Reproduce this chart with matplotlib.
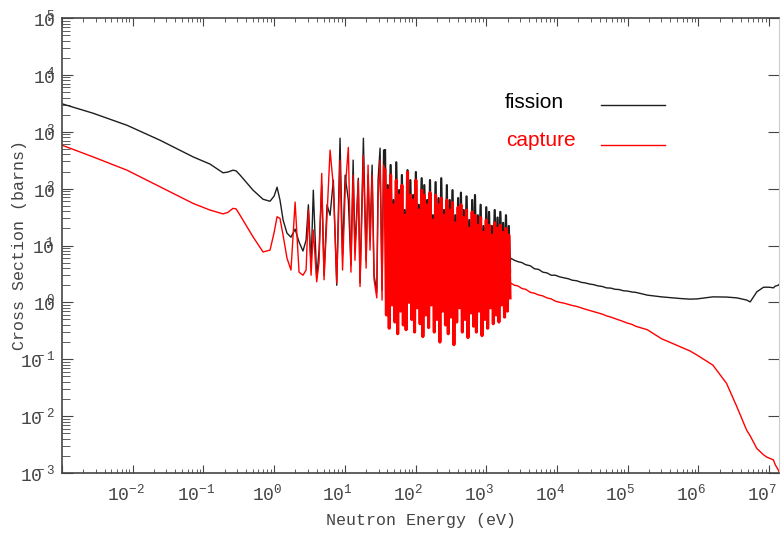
import numpy as np
import matplotlib
matplotlib.use("Agg")
import matplotlib.pyplot as plt
import matplotlib.transforms as mtransforms
from matplotlib.ticker import LogLocator, FuncFormatter, NullFormatter

# U-235 cross sections (energy in eV, cross section in barns)
thermal_energy = [0.001, 0.00274, 0.0083, 0.0243, 0.0713, 0.124, 0.189, 0.22, 0.262, 0.29,
                  0.33, 0.503, 0.697, 0.875, 1.0, 1.10, 1.21, 1.34, 1.52, 1.73, 1.98, 2.25, 2.56]
thermal_fission = [3100, 2120, 1300, 710, 362, 270, 190, 195, 211, 205,
                   173, 94, 65, 60, 74, 106, 63, 28, 16.5, 14, 19.4, 11.5, 8]
thermal_capture = [580, 362, 211, 108, 55, 42, 36, 38, 45, 44,
                   34, 14.2, 7.7, 8.3, 17, 32, 30, 15, 6.0, 3.7, 58, 3.4, 3.0]

# resolved resonances, isolated part
sparse_energy = [2.83, 3.05, 3.33, 3.58, 4.0, 4.32, 4.71, 5.08, 5.6, 6.18, 6.88, 7.68, 8.55, 9.28,
                 10.1, 11.2, 12.2, 13.1, 13.9, 15.5, 16.4, 18.3, 20.0, 21.3, 22.7, 24.3, 25.9,
                 28.3, 29.5, 31.5, 33.6, 35.3]
sparse_fission = [12.4, 52, 4.5, 94, 2.7, 8.3, 115, 3.0, 52, 34, 141, 2.0, 770, 6.8,
                  173, 63, 4.5, 317, 8.3, 152, 2.2, 770, 5.5, 173, 12.4, 259, 3.0,
                  1.5, 141, 515, 1.64, 475]
sparse_capture = [3.7, 42, 3.0, 18.7, 2.3, 5.1, 185, 2.5, 34, 475, 110, 2.2, 317, 3.7,
                  94, 530, 3.4, 173, 5.5, 141, 1.9, 385, 4.0, 259, 8.3, 173, 2.5,
                  1.2, 63, 317, 1.1, 259]

# resolved resonances, dense part (peak / valley pairs)
dense_energy = [37.0, 38.7, 40.5, 42.4, 44.4, 46.5, 48.7, 51.0, 53.4, 55.9,
                58.5, 61.2, 64.1, 67.1, 70.2, 73.5, 77.0, 80.6, 84.4, 88.3,
                92.5, 96.8, 101, 106, 111, 116, 122, 127, 133, 140,
                146, 153, 160, 168, 176, 184, 192, 201, 211, 221,
                231, 242, 253, 265, 277, 290, 304, 318, 333, 349,
                365, 382, 400, 419, 438, 459, 480, 503, 526, 551,
                577, 604, 632, 662, 693, 725, 759, 795, 832, 871,
                912, 955, 1000, 1047, 1096, 1147, 1201, 1257, 1316, 1378,
                1443, 1510, 1581, 1655, 1733, 1814, 1899, 1988, 2081, 2170]
dense_fission = [475, 3.0, 115, 2.0, 260, 4.0, 63, 1.5, 290, 2.5,
                 94, 3.5, 173, 1.2, 42, 2.8, 211, 1.8, 141, 3.2,
                 77, 1.4, 195, 2.2, 52, 4.2, 152, 1.6, 115, 2.6,
                 63, 1.3, 141, 3.0, 34, 2.0, 130, 1.7, 68, 3.6,
                 152, 1.5, 42, 2.4, 115, 1.1, 63, 2.9, 94, 1.9,
                 34, 3.3, 68, 1.4, 85, 2.1, 42, 1.6, 73, 3.8,
                 28, 1.3, 63, 2.5, 77, 1.8, 34, 2.7, 52, 1.2,
                 22, 2.2, 47, 3.1, 39, 1.5, 22, 2.0, 42, 2.6,
                 31, 1.7, 39, 3.0, 25, 2.3, 34, 2.8, 22, 3.5]
dense_capture = [211, 0.6, 94, 0.35, 173, 0.9, 52, 0.45, 141, 0.28,
                 77, 0.7, 115, 0.4, 34, 0.33, 195, 1.0, 77, 0.5,
                 63, 0.3, 141, 0.8, 42, 0.42, 94, 0.25, 77, 0.6,
                 52, 0.36, 85, 0.9, 28, 0.3, 77, 0.5, 52, 0.2,
                 68, 0.7, 34, 0.4, 63, 0.28, 42, 0.55, 57, 0.18,
                 25, 0.45, 47, 0.8, 52, 0.3, 31, 0.5, 42, 0.24,
                 20, 0.65, 39, 0.38, 34, 0.3, 22.7, 0.7, 31, 0.26,
                 17, 0.5, 28, 0.35, 22.7, 0.8, 15.2, 0.42, 25, 0.6,
                 20, 0.45, 22.7, 0.9, 17, 0.55, 20, 0.7, 15.2, 1.2]

# unresolved + fast region
fast_energy = [2.2e3, 2.5e3, 2.8e3, 3.2e3, 3.6e3, 4.2e3, 4.8e3, 5.5e3, 6.3e3, 7.2e3,
               8.3e3, 9.5e3, 1.1e4, 1.25e4, 1.45e4, 1.65e4, 1.9e4, 2.2e4, 2.5e4, 2.9e4,
               3.3e4, 3.8e4, 4.4e4, 5e4, 5.8e4, 6.6e4, 7.6e4, 8.7e4, 1e5, 1.15e5,
               1.3e5, 1.9e5, 3e5, 5.5e5, 7.6e5, 9.5e5, 1.6e6, 2.5e6, 3.5e6, 4.8e6,
               5.4e6, 6.7e6, 8.3e6, 9.3e6, 1.03e7, 1.15e7, 1.22e7, 1.35e7, 1.43e7]
fast_fission = [6.0, 5.5, 5.2, 5.0, 4.6, 4.4, 3.9, 3.8, 3.4, 3.3,
                3.0, 3.0, 2.8, 2.7, 2.6, 2.45, 2.4, 2.25, 2.2, 2.1,
                2.05, 1.95, 1.9, 1.8, 1.78, 1.7, 1.68, 1.6, 1.58, 1.52,
                1.5, 1.34, 1.25, 1.17, 1.14, 1.15, 1.25, 1.24, 1.2, 1.1,
                1.02, 1.53, 1.84, 1.85, 1.84, 1.8, 1.93, 2.0, 2.16]
fast_capture = [2.2, 2.0, 1.95, 1.75, 1.7, 1.5, 1.45, 1.35, 1.3, 1.2,
                1.15, 1.05, 1.0, 0.97, 0.92, 0.88, 0.85, 0.8, 0.76, 0.72,
                0.69, 0.65, 0.62, 0.58, 0.55, 0.52, 0.49, 0.46, 0.43, 0.41,
                0.38, 0.33, 0.23, 0.166, 0.14, 0.119, 0.079, 0.0377, 0.0146, 0.0057,
                0.0045, 0.0027, 0.0021, 0.0019, 0.0018, 0.0017, 0.0014, 0.00113, 0.0009]

energy = thermal_energy + sparse_energy + dense_energy + fast_energy
fission = thermal_fission + sparse_fission + dense_fission + fast_fission
capture = thermal_capture + sparse_capture + dense_capture + fast_capture

plt.rcParams["font.family"] = ["Liberation Mono", "DejaVu Sans"]
plt.rcParams["mathtext.fontset"] = "custom"
plt.rcParams["mathtext.rm"] = "Liberation Mono"

BLACK = "#1e1e1e"
RED = "#ff0000"
GREY = "#444444"

fig = plt.figure(figsize=(7.82, 5.42), dpi=100)
ax = fig.add_axes([62 / 782, 69 / 542, 717 / 782, 455 / 542])

ax.plot(energy, fission, color=BLACK, lw=1.0)
ax.plot(dense_energy, dense_fission, color=BLACK, lw=1.6)
ax.plot(energy, capture, color=RED, lw=1.0)
ax.plot(dense_energy, dense_capture, color=RED, lw=2.2)

ax.set_xscale("log")
ax.set_yscale("log")
ax.set_xlim(1e-3, 1.38e7)
ax.set_ylim(1e-3, 1e5)

ax.xaxis.set_major_locator(LogLocator(base=10, numticks=20))
ax.yaxis.set_major_locator(LogLocator(base=10, numticks=20))
ax.xaxis.set_minor_locator(LogLocator(base=10, subs=np.arange(2, 10), numticks=20))
ax.yaxis.set_minor_locator(LogLocator(base=10, subs=np.arange(2, 10), numticks=20))


def xfmt(v, pos):
    e = round(np.log10(v))
    if e <= -3:
        return ""
    return r"$\mathregular{10^{%d}}$" % e


def yfmt(v, pos):
    return r"$\mathregular{10^{\!\!\!\!%d}}$" % round(np.log10(v))


ax.xaxis.set_major_formatter(FuncFormatter(xfmt))
ax.yaxis.set_major_formatter(FuncFormatter(yfmt))
ax.xaxis.set_minor_formatter(NullFormatter())
ax.yaxis.set_minor_formatter(NullFormatter())

ax.tick_params(which="both", direction="in", top=True, right=True, color=GREY,
               labelcolor=GREY, labelsize=13)
ax.tick_params(axis="x", which="major", length=6, pad=8)
ax.tick_params(axis="x", which="minor", length=3)
ax.tick_params(axis="y", which="major", length=8, pad=5)
ax.tick_params(axis="y", which="minor", length=6, right=False)

# x tick labels sit a little left of their ticks in the original
shift = mtransforms.ScaledTranslation(-7 / 100, 0, fig.dpi_scale_trans)
for lab in ax.get_xticklabels():
    lab.set_transform(lab.get_transform() + shift)

for side in ["left", "bottom", "top"]:
    ax.spines[side].set_color(GREY)
    ax.spines[side].set_linewidth(1.2)
ax.spines["right"].set_color("#cccccc")
ax.spines["right"].set_linewidth(0.8)

ax.set_xlabel("Neutron Energy (eV)", fontsize=12, color=GREY, labelpad=6)
ax.set_ylabel("Cross Section (barns)", fontsize=12, color=GREY)
ax.yaxis.set_label_coords(-0.049, 0.5)

# legend drawn as text + short lines
ax.text(0.617, 0.815, "fission", transform=ax.transAxes, fontsize=15,
        family="Liberation Sans", color="black", va="center")
ax.plot([0.752, 0.841], [0.809, 0.809], transform=ax.transAxes, color=BLACK, lw=1.0)
ax.text(0.620, 0.730, "capture", transform=ax.transAxes, fontsize=15,
        family="Liberation Sans", color=RED, va="center")
ax.plot([0.752, 0.841], [0.721, 0.721], transform=ax.transAxes, color=RED, lw=1.0)

fig.savefig("out.png", dpi=100)
